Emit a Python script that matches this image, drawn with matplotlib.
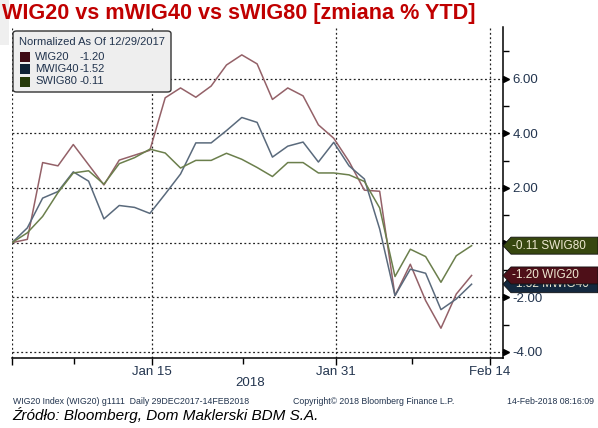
import matplotlib
matplotlib.use("Agg")
import matplotlib.pyplot as plt
import numpy as np
from matplotlib.patches import Polygon, FancyBboxPatch, Rectangle
from matplotlib.transforms import blended_transform_factory, IdentityTransform

W, H = 598, 428

# daily points, 29 Dec 2017 - 14 Feb 2018 (% change vs 29 Dec)
wig20 = [0, 0.12, 2.93, 2.81, 3.59, 2.85, 2.11, 3.02, 3.20, 3.38, 5.30, 5.66, 5.32, 5.73, 6.50, 6.87,
         6.54, 5.24, 5.66, 5.37, 4.31, 3.82, 2.97, 1.92, 1.88, -1.94, -0.79, -2.12, -3.13, -1.88, -1.20]
mwig40 = [0, 0.54, 1.63, 1.87, 2.59, 2.25, 0.87, 1.36, 1.29, 1.07, 1.78, 2.51, 3.65, 3.65, 4.10, 4.58,
          4.40, 3.13, 3.53, 3.68, 2.95, 3.67, 2.81, 2.33, 0.50, -1.94, -0.97, -1.12, -2.45, -2.06, -1.52]
swig80 = [0, 0.36, 0.96, 1.83, 2.55, 2.63, 2.14, 2.89, 3.11, 3.42, 3.28, 2.73, 3.01, 3.01, 3.27, 3.05,
          2.75, 2.42, 2.93, 2.93, 2.55, 2.55, 2.48, 2.24, 1.27, -1.24, -0.24, -0.51, -1.45, -0.48, -0.11]

names = ['WIG20', 'MWIG40', 'SWIG80']
series = [wig20, mwig40, swig80]
line_colors = ['#946168', '#5a6a7c', '#6b7f4c']
swatch_colors = ['#3e0a14', '#0f2236', '#263a0a']
tag_colors = ['#4e0f18', '#14283e', '#37470f']

x_ticks = [0, 9.14, 21.15, 31.2]
x_labels = ['', 'Jan 15', 'Jan 31', 'Feb 14']
x_minor = [4.05, 15.08, 26.1]
y_major = [-4, -2, 0, 2, 4, 6]
y_labels = ['-4.00', '-2.00', '', '2.00', '4.00', '6.00']  # 0.00 sits under the SWIG80 tag
y_minor = [-3, -1, 1, 3, 5, 7]

navy = '#22344e'
fs = ['Liberation Sans', 'DejaVu Sans']


def fx(x):
    return x / W


def fy(y):
    return 1 - y / H


fig = plt.figure(figsize=(W / 100, H / 100), dpi=100)
fig.patches.append(Rectangle((0, fy(45)), fx(9), 45 / H, transform=fig.transFigure,
                             fc='#efefef', ec='none', zorder=0))

ax = fig.add_axes([fx(12), fy(358), fx(503) - fx(12), fy(27) - fy(358)])
x = np.arange(len(wig20))
for s, c, n in zip(series, line_colors, names):
    ax.plot(x, s, color=c, lw=1.1, label=n)

ax.set_xlim(0, 32.05)
ax.set_ylim(-4.22, 7.89)

for sp in ['top', 'left']:
    ax.spines[sp].set_visible(False)
ax.spines['right'].set_linewidth(1.1)
ax.spines['bottom'].set_linewidth(1.1)

ax.set_xticks(x_ticks)
ax.set_xticklabels(x_labels, fontsize=9.5, color=navy, family=fs)
ax.set_xticks(x_minor, minor=True)
ax.tick_params(axis='x', which='major', length=5, width=1, pad=1)
ax.tick_params(axis='x', which='minor', length=4, width=1)

ax.yaxis.tick_right()
ax.set_yticks(y_major)
ax.set_yticklabels(y_labels, fontsize=9.5, color=navy, family=fs)
ax.set_yticks(y_minor, minor=True)
ax.tick_params(axis='y', which='major', length=0, pad=7)
ax.tick_params(axis='y', which='minor', length=4, width=1)

for v in x_ticks:
    ax.axvline(v, color='#222222', lw=0.9, ls=(0, (1.5, 2)), zorder=0)
for v in y_major:
    ax.axhline(v, color='#222222', lw=0.9, ls=(0, (1.5, 2)), zorder=0)

tr = blended_transform_factory(ax.transAxes, ax.transData)
ax.plot([1.006] * len(y_major), y_major, ls='none', marker='>', ms=5, color='black',
        transform=tr, clip_on=False)

fig.text(fx(250), fy(383), '2018', fontsize=9.5, color=navy, family=fs, ha='center', va='center')

# right-hand value tags, MWIG40 at the back
for k, i in enumerate([1, 0, 2]):
    val = series[i][-1]
    _, yd = ax.transData.transform((0, val))
    xd = ax.transAxes.transform((1, 0))[0]
    h = 8.5
    verts = [(xd, yd), (xd + 8, yd + h), (W, yd + h), (W, yd - h), (xd + 8, yd - h)]
    fig.patches.append(Polygon(verts, closed=True, transform=IdentityTransform(),
                               fc=tag_colors[i], ec='#111111', lw=0.6, zorder=3 + 2 * k))
    fig.text(fx(512), yd / H, '%.2f %s' % (val, names[i]), fontsize=8.5, color='#efe9d2',
             family=fs, va='center', ha='left', zorder=4 + 2 * k)

# legend box
fig.patches.append(FancyBboxPatch((fx(13), fy(92)), fx(158), (92 - 31) / H,
                                  boxstyle='round,pad=0,rounding_size=0.006',
                                  transform=fig.transFigure, fc='#eeeeee', ec='#333333',
                                  lw=1, zorder=2))
fig.text(fx(19), fy(42), 'Normalized As Of 12/29/2017', fontsize=8, color=navy, family=fs,
         va='center', zorder=3)
for i, (n, s) in enumerate(zip(names, series)):
    yc = 56.5 + 12.5 * i
    fig.patches.append(Rectangle((fx(20), fy(yc + 5)), fx(10), 10 / H, transform=fig.transFigure,
                                 fc=swatch_colors[i], ec='none', zorder=3))
    fig.text(fx(35), fy(yc), n, fontsize=8, color=navy, family=fs, va='center', zorder=3)
    fig.text(fx(79), fy(yc), '%.2f' % s[-1], fontsize=8, color=navy, family=fs, va='center', zorder=3)

fig.text(fx(2), fy(14), 'WIG20 vs mWIG40 vs sWIG80 [zmiana % YTD]', fontsize=15.6, color='#c00000',
         fontweight='bold', family=fs, va='center', ha='left')

fig.text(fx(13), fy(402), 'WIG20 Index (WIG20) g1111  Daily 29DEC2017-14FEB2018', fontsize=6.3,
         color=navy, family=fs, va='center')
fig.text(fx(293), fy(402), 'Copyright\u00a9 2018 Bloomberg Finance L.P.', fontsize=6.3,
         color=navy, family=fs, va='center')
fig.text(fx(594), fy(402), '14-Feb-2018 08:16:09', fontsize=6.3, color=navy, family=fs,
         va='center', ha='right')
fig.text(fx(12), fy(415), '\u0179r\u00f3d\u0142o: Bloomberg, Dom Maklerski BDM S.A.', fontsize=11,
         style='italic', color='black', family=fs, va='center')

fig.savefig('out.png', dpi=100)
